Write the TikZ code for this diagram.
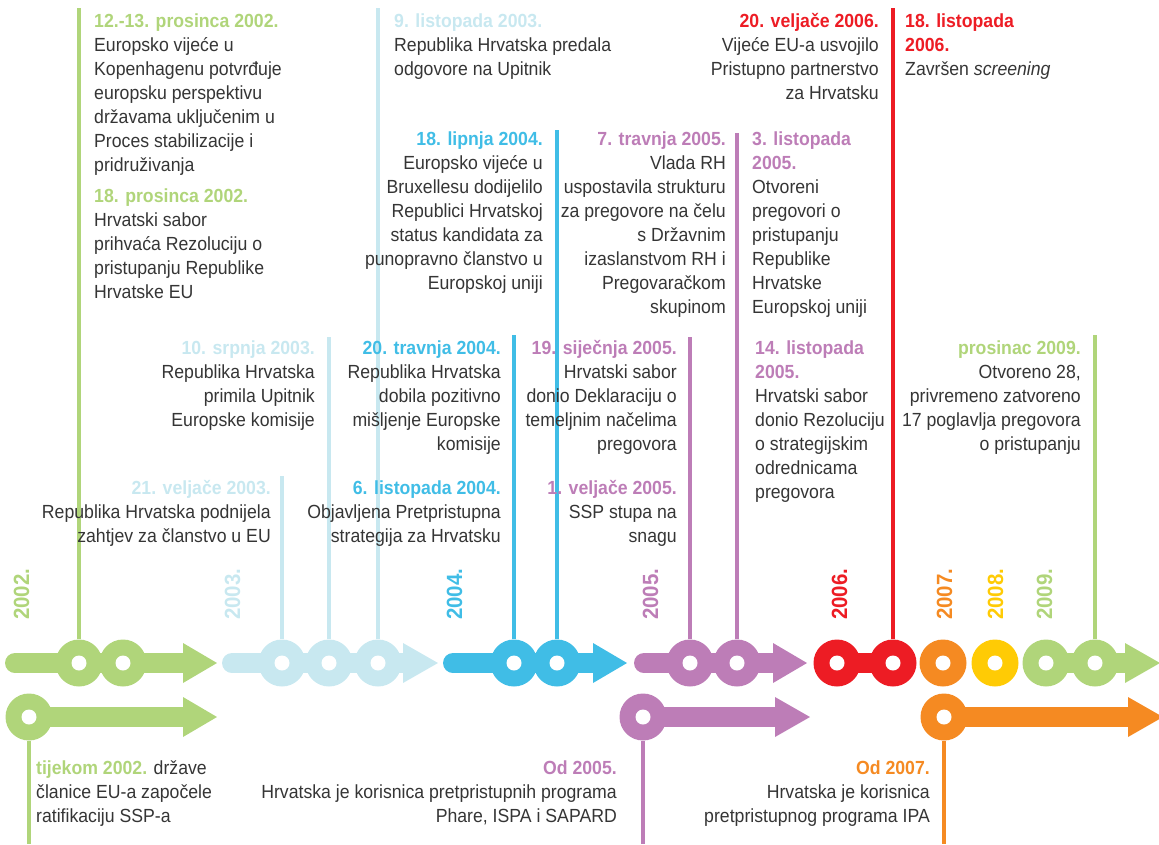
\documentclass[tikz,border=0pt]{standalone}
\usepackage{fontspec}
\setmainfont{Liberation Sans}[FakeStretch=0.93]
\definecolor{cgreen}{HTML}{B0D57A}
\definecolor{clight}{HTML}{C8E8F0}
\definecolor{cblue}{HTML}{40BDE6}
\definecolor{cpurple}{HTML}{BD7DB7}
\definecolor{cred}{HTML}{ED1C24}
\definecolor{corange}{HTML}{F58A22}
\definecolor{cyellow}{HTML}{FFCB05}
\definecolor{ctext}{HTML}{353535}
\newcommand\hd[2]{\textcolor{#1}{\bfseries #2}}
\newcommand\tlbar[5]{%
  \fill[#1] (#3,#2-10) rectangle (#4+0.5,#2+10);
  \fill[#1] (#3,#2) circle[radius=10pt];
  \fill[#1] (#4,#2-20) -- (#5,#2) -- (#4,#2+20) -- cycle;}
\newcommand\tlring[4]{%
  \node[ring, fill=#2] (#1) at (#3,#4) {};}
\newcommand\tlhole[1]{\node[hole] at (#1) {};}
\begin{document}
\begin{tikzpicture}[x=1pt,y=-1pt,
  body/.style={font=\fontsize{19}{24}\selectfont, text=ctext, inner sep=0pt},
  lft/.style={body, align=left, anchor=base west},
  rgt/.style={body, align=right, anchor=base east},
  yr/.style={font=\fontsize{22}{22}\selectfont\bfseries, rotate=90, anchor=base west, inner sep=0pt},
  stem/.style={line width=3.5pt},
  ring/.style={circle, minimum size=47pt, inner sep=0pt, draw=none},
  hole/.style={circle, minimum size=15pt, inner sep=0pt, fill=white, draw=none}]
\useasboundingbox (0,0) rectangle (1159,844);

% ---------- bars ----------
\tlbar{cgreen}{663}{15}{183}{217}
\tlbar{clight}{663}{232}{403}{438}
\tlbar{cblue}{663}{453}{593}{627}
\tlbar{cpurple}{663}{644}{773}{807}
\fill[cred] (837,653) rectangle (893,673);
\fill[cgreen] (1046,653) rectangle (1126,673);
\fill[cgreen] (1125,643) -- (1160,663) -- (1125,683) -- cycle;
\fill[cgreen] (29,707) rectangle (184,727);
\fill[cgreen] (183,697) -- (217,717) -- (183,737) -- cycle;
\fill[cpurple] (643,707) rectangle (776,727);
\fill[cpurple] (775,697) -- (810,717) -- (775,737) -- cycle;
\fill[corange] (944,707) rectangle (1129,727);
\fill[corange] (1128,697) -- (1163,717) -- (1128,737) -- cycle;

% ---------- rings ----------
\tlring{g1}{cgreen}{79}{663}
\tlring{g2}{cgreen}{123}{663}
\tlring{l1}{clight}{282}{663}
\tlring{l2}{clight}{329}{663}
\tlring{l3}{clight}{378}{663}
\tlring{b1}{cblue}{514}{663}
\tlring{b2}{cblue}{557}{663}
\tlring{p1}{cpurple}{690}{663}
\tlring{p2}{cpurple}{737}{663}
\tlring{r1}{cred}{837}{663}
\tlring{r2}{cred}{893}{663}
\tlring{o1}{corange}{943}{663}
\tlring{y1}{cyellow}{995}{663}
\tlring{n1}{cgreen}{1046}{663}
\tlring{n2}{cgreen}{1095}{663}
\tlring{gb}{cgreen}{29}{717}
\tlring{pb}{cpurple}{643}{717}
\tlring{ob}{corange}{944}{717}
\foreach \h in {g1,g2,l1,l2,l3,b1,b2,p1,p2,r1,r2,o1,y1,n1,n2,gb,pb,ob} {\tlhole{\h}}

% ---------- stems ----------
\coordinate (g1t) at (79,8);
\coordinate (l1t) at (282,476);
\coordinate (l2t) at (329,337);
\coordinate (l3t) at (378,8);
\coordinate (b1t) at (514,335);
\coordinate (b2t) at (557,130);
\coordinate (p1t) at (690,337);
\coordinate (p2t) at (737,133);
\coordinate (r2t) at (893,8);
\coordinate (n2t) at (1095,335);
\coordinate (gbb) at (29,844);
\coordinate (pbb) at (643,844);
\coordinate (obb) at (944,844);
\draw[stem, cgreen] (g1t) -- (g1.north);
\draw[stem, clight] (l1t) -- (l1.north);
\draw[stem, clight] (l2t) -- (l2.north);
\draw[stem, clight] (l3t) -- (l3.north);
\draw[stem, cblue] (b1t) -- (b1.north);
\draw[stem, cblue] (b2t) -- (b2.north);
\draw[stem, cpurple] (p1t) -- (p1.north);
\draw[stem, cpurple] (p2t) -- (p2.north);
\draw[stem, cred] (r2t) -- (r2.north);
\draw[stem, cgreen] (n2t) -- (n2.north);
\draw[stem, cgreen] (gb.south) -- (gbb);
\draw[stem, cpurple] (pb.south) -- (pbb);
\draw[stem, corange] (ob.south) -- (obb);

% ---------- years ----------
\node[yr, text=cgreen] (y2002) at (29,620) {2002.};
\node[yr, text=clight] (y2003) at (240,620) {2003.};
\node[yr, text=cblue] (y2004) at (462,620) {2004.};
\node[yr, text=cpurple] (y2005) at (658,620) {2005.};
\node[yr, text=cred] (y2006) at (847,620) {2006.};
\node[yr, text=corange] (y2007) at (952,620) {2007.};
\node[yr, text=cyellow] (y2008) at (1003,620) {2008.};
\node[yr, text=cgreen] (y2009) at (1052,620) {2009.};

% ---------- texts (placed by the baseline of their last line) ----------
\node[lft] (t1) at (94,171) {\hd{cgreen}{12.-13. prosinca 2002.}\\Europsko vijeće u\\Kopenhagenu potvrđuje\\europsku perspektivu\\državama uključenim u\\Proces stabilizacije i\\pridruživanja};
\node[lft] (t1b) at (94,298) {\hd{cgreen}{18. prosinca 2002.}\\Hrvatski sabor\\prihvaća Rezoluciju o\\pristupanju Republike\\Hrvatske EU};
\node[lft] (t2) at (394,75) {\hd{clight}{9. listopada 2003.}\\Republika Hrvatska predala\\odgovore na Upitnik};
\node[rgt] (t3) at (879,99) {\hd{cred}{20. veljače 2006.}\\Vijeće EU-a usvojilo\\Pristupno partnerstvo\\za Hrvatsku};
\node[lft] (t4) at (905,75) {\hd{cred}{18. listopada}\\\hd{cred}{2006.}\\Završen \textit{screening}};
\node[rgt] (t5) at (543,289) {\hd{cblue}{18. lipnja 2004.}\\Europsko vijeće u\\Bruxellesu dodijelilo\\Republici Hrvatskoj\\status kandidata za\\punopravno članstvo u\\Europskoj uniji};
\node[rgt] (t6) at (726,313) {\hd{cpurple}{7. travnja 2005.}\\Vlada RH\\uspostavila strukturu\\za pregovore na čelu\\s Državnim\\izaslanstvom RH i\\Pregovaračkom\\skupinom};
\node[lft] (t7) at (752,313) {\hd{cpurple}{3. listopada}\\\hd{cpurple}{2005.}\\Otvoreni\\pregovori o\\pristupanju\\Republike\\Hrvatske\\Europskoj uniji};
\node[rgt] (t8) at (315,426) {\hd{clight}{10. srpnja 2003.}\\Republika Hrvatska\\primila Upitnik\\Europske komisije};
\node[rgt] (t9) at (501,450) {\hd{cblue}{20. travnja 2004.}\\Republika Hrvatska\\dobila pozitivno\\mišljenje Europske\\komisije};
\node[rgt] (t10) at (677,450) {\hd{cpurple}{19. siječnja 2005.}\\Hrvatski sabor\\donio Deklaraciju o\\temeljnim načelima\\pregovora};
\node[lft] (t11) at (755,498) {\hd{cpurple}{14. listopada}\\\hd{cpurple}{2005.}\\Hrvatski sabor\\donio Rezoluciju\\o strategijskim\\odrednicama\\pregovora};
\node[rgt] (t12) at (1081,450) {\hd{cgreen}{prosinac 2009.}\\Otvoreno 28,\\privremeno zatvoreno\\17 poglavlja pregovora\\o pristupanju};
\node[rgt] (t13) at (271,542) {\hd{clight}{21. veljače 2003.}\\Republika Hrvatska podnijela\\zahtjev za članstvo u EU};
\node[rgt] (t14) at (501,542) {\hd{cblue}{6. listopada 2004.}\\Objavljena Pretpristupna\\strategija za Hrvatsku};
\node[rgt] (t15) at (677,542) {\hd{cpurple}{1. veljače 2005.}\\SSP stupa na\\snagu};
\node[lft] (t16) at (36,822) {\hd{cgreen}{tijekom 2002.} države\\članice EU-a započele\\ratifikaciju SSP-a};
\node[rgt] (t17) at (617,822) {\hd{cpurple}{Od 2005.}\\Hrvatska je korisnica pretpristupnih programa\\Phare, ISPA i SAPARD};
\node[rgt] (t18) at (930,822) {\hd{corange}{Od 2007.}\\Hrvatska je korisnica\\pretpristupnog programa IPA};
\end{tikzpicture}
\end{document}
